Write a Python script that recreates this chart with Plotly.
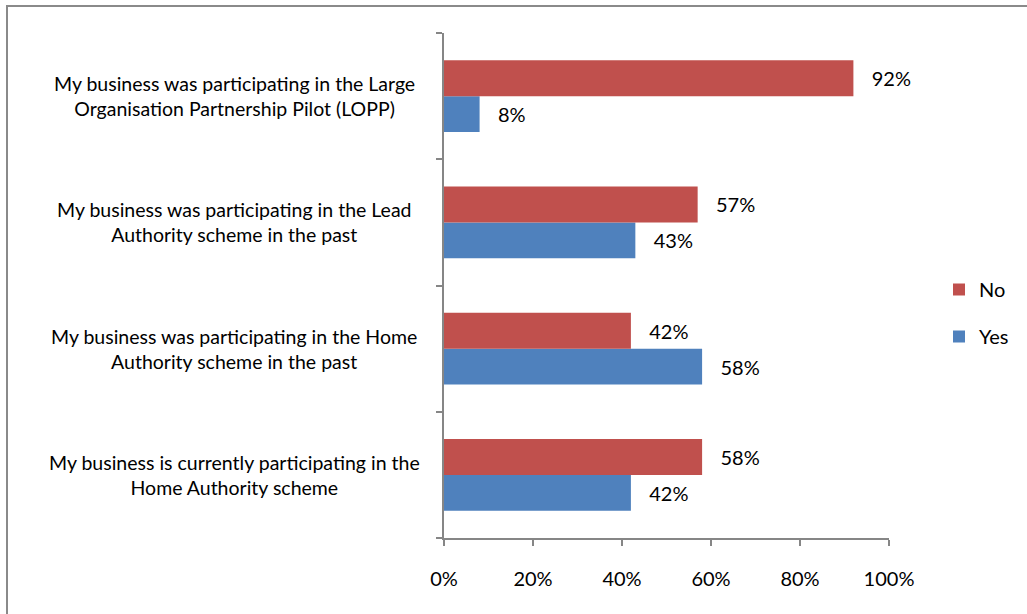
import plotly.graph_objects as go

# Survey categories, listed bottom to top as they appear on the axis
categories = [
    "My business is currently participating in the<br>Home Authority scheme",
    "My business was participating in the Home<br>Authority scheme in the past",
    "My business was participating in the Lead<br>Authority scheme in the past",
    "My business was participating in the Large<br>Organisation Partnership Pilot (LOPP)",
]
yes_pct = [42, 58, 43, 8]
no_pct = [58, 42, 57, 92]
x_tick_vals = [0, 20, 40, 60, 80, 100]
x_tick_text = ["0%", "20%", "40%", "60%", "80%", "100%"]

FONT = "Lato, Calibri, Carlito, sans-serif"
AXIS_GREY = "#868686"
W, H = 1027, 614
L, R, T, B = 444, 138, 33, 76

fig = go.Figure()
pad = "\u00a0\u00a0\u00a0"
fig.add_trace(go.Bar(
    name="Yes", y=categories, x=yes_pct, orientation="h",
    legendgroup="yes", legendrank=2,
    marker=dict(color="#4F81BD", line=dict(width=0)),
    text=[f"{pad}{v}%" for v in yes_pct], textposition="outside",
    textfont=dict(family=FONT, size=20, color="black"), cliponaxis=False,
))
fig.add_trace(go.Bar(
    name="No", y=categories, x=no_pct, orientation="h",
    legendgroup="no", legendrank=1,
    marker=dict(color="#C0504D", line=dict(width=0)),
    text=[f"{pad}{v}%" for v in no_pct], textposition="outside",
    textfont=dict(family=FONT, size=20, color="black"), cliponaxis=False,
))

# Centred, two-line category labels to the left of the axis
plot_w = W - L - R
label_x = (234 - L) / plot_w
for c in categories:
    fig.add_annotation(
        x=label_x, xref="paper", y=c, yref="y", text=c, showarrow=False,
        xanchor="center", yanchor="middle", align="center",
        font=dict(family=FONT, size=19.5, color="black"),
    )

# Outer chart frame
plot_h = H - T - B
fig.add_shape(
    type="rect", xref="paper", yref="paper",
    x0=(7 - L) / plot_w, x1=(W + 20 - L) / plot_w,
    y0=(H - B - (H + 20)) / plot_h, y1=(H - B - 6) / plot_h,
    line=dict(color="#8A8A8A", width=2), fillcolor="rgba(0,0,0,0)", layer="below",
)

fig.update_layout(
    width=W, height=H,
    margin=dict(l=L, r=R, t=T, b=B, autoexpand=False),
    paper_bgcolor="white", plot_bgcolor="white",
    barmode="group", bargap=0.43, bargroupgap=0,
    font=dict(family=FONT, size=19, color="black"),
    showlegend=True,
    legend=dict(
        x=(939 - L) / plot_w, xanchor="left", y=(H - B - 313) / plot_h, yanchor="middle",
        traceorder="grouped", font=dict(family=FONT, size=20),
        itemwidth=30, tracegroupgap=18, bgcolor="rgba(0,0,0,0)",
    ),
    xaxis=dict(
        range=[0, 100], tickvals=x_tick_vals, ticktext=x_tick_text,
        showgrid=False, zeroline=False, showline=True, linecolor=AXIS_GREY, linewidth=2,
        ticks="outside", ticklen=6, tickcolor=AXIS_GREY, tickwidth=2,
        ticklabelstandoff=16, tickfont=dict(family=FONT, size=20, color="black"),
        fixedrange=True,
    ),
    yaxis=dict(
        showgrid=False, zeroline=False, showline=True, linecolor=AXIS_GREY, linewidth=2,
        ticks="outside", ticklen=6, tickcolor=AXIS_GREY, tickwidth=2,
        tickson="boundaries", showticklabels=False,
        categoryorder="array", categoryarray=categories, fixedrange=True,
    ),
)

fig.write_html("out.html")
